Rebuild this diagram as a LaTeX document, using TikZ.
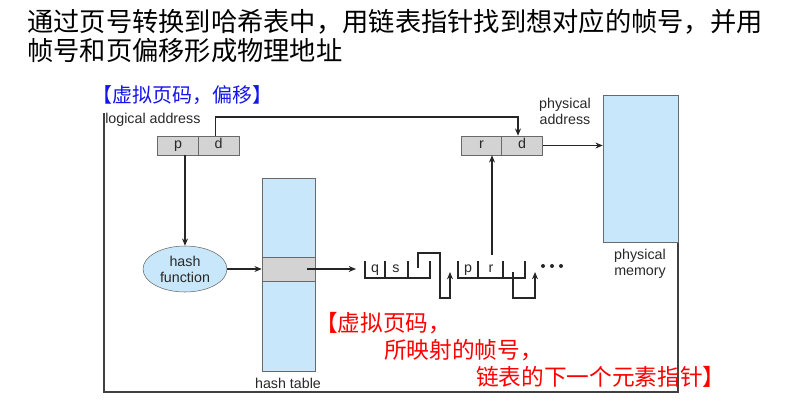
\documentclass[tikz,border=0pt]{standalone}
\usepackage{fontspec}
\setmainfont{Liberation Sans}
\newfontfamily\cjk{Noto Sans CJK SC}
\usetikzlibrary{arrows.meta,shapes.geometric,calc}
\definecolor{tablue}{RGB}{201,231,250}
\definecolor{cellgray}{RGB}{211,211,211}
\definecolor{boxline}{RGB}{105,105,105}
\definecolor{labeltext}{RGB}{40,40,40}
\definecolor{notered}{RGB}{255,0,0}
\definecolor{noteblue}{RGB}{20,20,235}
\tikzset{
  lbl/.style={font=\fontsize{10.7pt}{12pt}\selectfont, text=labeltext, inner sep=0pt, align=center},
  letter/.style={font=\fontsize{10.7pt}{12pt}\selectfont, text=labeltext, inner sep=0pt,
    text height=7.6pt, text depth=2.4pt},
  cell/.style={draw=boxline, fill=cellgray, minimum width=30.4pt, minimum height=14.25pt,
    inner sep=0pt, letter},
  wire/.style={line width=0.8pt, draw=black!85},
  arr/.style={wire, -{Stealth[length=5.5pt,width=4.5pt]}},
  frameline/.style={line width=0.8pt, draw=black!75},
  title/.style={font=\cjk\fontsize{19.7pt}{24pt}\selectfont, inner sep=0pt, anchor=base west},
  bluenote/.style={font=\cjk\fontsize{15pt}{18pt}\selectfont, text=noteblue, inner sep=0pt, anchor=west},
  rednote/.style={font=\cjk\fontsize{17pt}{20pt}\selectfont, text=notered, inner sep=0pt, anchor=west},
}
\begin{document}
\begin{tikzpicture}[x=0.75pt,y=-0.75pt]
\useasboundingbox (0,0) rectangle (798,407);

% heading
\node[title] (t1) at (27,31) {通过页号转换到哈希表中，用链表指针找到想对应的帧号，并用};
\node[title] (t2) at (27,60) {帧号和页偏移形成物理地址};

% frame around the figure
\draw[frameline] (104,113) -- (104,392) -- (678,392) -- (678,242);

% physical memory
\node[draw=boxline, fill=tablue, minimum width=56.25pt, minimum height=110.25pt, inner sep=0pt]
  (mem) at (640.5,168.5) {};
\node[lbl] (memlbl) at (640,264) {physical\\memory};

% logical address
\node[lbl, anchor=west] (lalbl) at (105,120) {logical address};
\node[cell] (p) at (178,145.5) {p};
\node[cell] (d) at (218.5,145.5) {d};

% physical address
\node[lbl] (palbl) at (565,111) {physical\\address};
\node[cell] (r) at (481.5,145.5) {r};
\node[cell] (d2) at (522,145.5) {d};

% hash function
\node[ellipse, draw=boxline, fill=tablue, minimum width=63pt, minimum height=34.5pt, inner sep=0pt,
  lbl] (hf) at (185,269) {hash\\function};

% hash table
\node[draw=boxline, fill=tablue, minimum width=39.75pt, minimum height=144.75pt, inner sep=0pt]
  (ht) at (288.5,274.5) {};
\node[draw=boxline, fill=cellgray, minimum width=39.75pt, minimum height=18pt, inner sep=0pt]
  (row) at (288.5,269) {};
\node[lbl] (htlbl) at (288,383) {hash table};

% chained entries
\coordinate (rowptr) at (307,269);
\coordinate (l1) at (356,269);
\draw[wire] (365,261) -- (365,278) -- (430,278) -- (430,261);
\draw[wire] (385,261) -- (385,278);
\draw[wire] (408,261) -- (408,278);
\node[letter] (q) at (375,269) {q};
\node[letter] (s) at (396,269) {s};
\coordinate (ptr1) at (418,268);
\coordinate (e2in) at (450,272);

\draw[wire] (458,261) -- (458,278) -- (525,278) -- (525,261);
\draw[wire] (478,261) -- (478,278);
\draw[wire] (503,261) -- (503,278);
\node[letter] (p2) at (468,269) {p};
\node[letter] (r2) at (491,269) {r};
\coordinate (rin) at (492,255);
\coordinate (ptr2) at (513,272);
\coordinate (e3in) at (535,272);
\foreach \i/\xx in {1/543,2/552,3/561} \fill[black!85] (\xx,266) circle (2);

% connectors
\draw[arr] (hf.north |- p.south) -- (hf.north);
\draw[arr] (hf.east) -- (row.west);
\draw[arr] (rowptr) -- (l1);
\draw[arr] (ptr1) -- (418,253) -- (440,253) -- (440,298) -| (e2in);
\draw[arr] (ptr2) -- (513,298) -| (e3in);
\draw[arr] (rin) -- (rin |- r.south);
\draw[arr] ([xshift=-2.5]d.north) |- (518,117) -- ([xshift=-3]d2.north);
\draw[arr] (d2.east) -- (mem.west |- d2.east);

% notes
\node[bluenote] (bn) at (92,95) {【虚拟页码，偏移】};
\node[rednote] (rn1) at (315,323) {【虚拟页码，};
\node[rednote] (rn2) at (384,350) {所映射的帧号，};
\node[rednote] (rn3) at (476,377) {链表的下一个元素指针】};
\end{tikzpicture}
\end{document}
